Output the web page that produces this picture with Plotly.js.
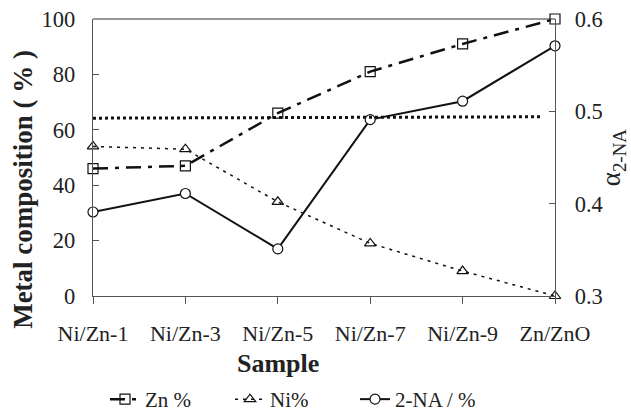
<!DOCTYPE html>
<html>
<head>
<meta charset="utf-8">
<script src="https://cdn.plot.ly/plotly-3.0.1.min.js"></script>
<style>html,body{margin:0;padding:0;background:#fff;}#chart{width:631px;height:411px;}</style>
</head>
<body>
<div id="chart"></div>
<script>
const samples = ['Ni/Zn-1', 'Ni/Zn-3', 'Ni/Zn-5', 'Ni/Zn-7', 'Ni/Zn-9', 'Zn/ZnO'];
const znPct = [46, 47, 66, 81, 91, 100];
const niPct = [54, 53, 34, 19, 9, 0];
const alpha2NA = [0.391, 0.411, 0.351, 0.491, 0.511, 0.571];
const refLineY = [64.2, 64.7];
const refLineX = [0, 4.87];

const fontFam = 'Liberation Serif, Times New Roman, serif';
const mk = (sym) => ({symbol: sym, size: 10, color: '#111', line: {color: '#111', width: 1.2}});

const traces = [
  {x: samples, y: znPct, name: 'Zn %', type: 'scatter', mode: 'lines+markers',
   line: {color: '#111', width: 2.5, dash: '15px,7px,4px,7px'}, marker: mk('square-open'), cliponaxis: false},
  {x: samples, y: niPct, name: 'Ni%', type: 'scatter', mode: 'lines+markers',
   line: {color: '#111', width: 1.5, dash: '3px,5px'}, marker: mk('triangle-up-open'), cliponaxis: false},
  {x: samples, y: alpha2NA, name: '2-NA / %', type: 'scatter', mode: 'lines+markers', yaxis: 'y2',
   line: {color: '#111', width: 2}, marker: {symbol: 'circle', size: 10, color: '#fff', line: {color: '#111', width: 1.2}}, cliponaxis: false}
];

const layout = {
  width: 631, height: 411,
  margin: {l: 93, r: 76, t: 19, b: 115},
  paper_bgcolor: '#fff', plot_bgcolor: '#fff',
  font: {family: fontFam, color: '#222', size: 22},
  showlegend: true,
  legend: {orientation: 'h', x: 0.026, xanchor: 'left', yref: 'container', y: 0.028, yanchor: 'middle',
           entrywidth: 80, font: {family: fontFam, size: 21, color: '#222'}, tracegroupgap: 0},
  xaxis: {type: 'category', range: [0, 5], showgrid: false, zeroline: false, automargin: false,
          showline: true, linecolor: '#555', linewidth: 1.2, mirror: false,
          ticks: 'outside', ticklen: 7, tickcolor: '#555', ticklabelstandoff: 10,
          tickfont: {family: fontFam, size: 22, color: '#222'}},
  yaxis: {range: [0, 100], dtick: 20, showgrid: false, zeroline: false, automargin: false,
          showline: true, linecolor: '#555', linewidth: 1.2,
          ticks: 'inside', ticklen: 6, tickcolor: '#555', ticklabelstandoff: 12,
          tickfont: {family: fontFam, size: 22.5, color: '#222'}},
  yaxis2: {overlaying: 'y', side: 'right', range: [0.3, 0.6], dtick: 0.1, tickformat: '.1f', automargin: false,
           showgrid: false, zeroline: false, showline: true, linecolor: '#555', linewidth: 1.2,
           ticks: 'inside', ticklen: 6, tickcolor: '#555', ticklabelstandoff: 14,
           tickfont: {family: fontFam, size: 22.5, color: '#222'}},
  annotations: [
    {text: '<b>Metal composition ( % )</b>', xref: 'paper', yref: 'paper', x: -0.152, y: 0.386,
     textangle: -90, showarrow: false, xanchor: 'center', yanchor: 'middle',
     font: {family: fontFam, size: 27, color: '#222'}},
    {text: '<b>Sample</b>', xref: 'paper', yref: 'paper', x: 0.4, y: -0.245,
     showarrow: false, xanchor: 'center', yanchor: 'middle',
     font: {family: fontFam, size: 26, color: '#222'}},
    {text: 'α<sub>2-NA</sub>', xref: 'paper', yref: 'paper', x: 1.125, y: 0.5,
     textangle: -90, showarrow: false, xanchor: 'center', yanchor: 'middle',
     font: {family: fontFam, size: 27, color: '#222'}}
  ],
  shapes: [
    {type: 'line', xref: 'paper', yref: 'paper', x0: 0, x1: 1, y0: 1, y1: 1, line: {color: '#333', width: 1.2}},
    {type: 'line', xref: 'x', yref: 'y', x0: refLineX[0], x1: refLineX[1], y0: refLineY[0], y1: refLineY[1],
     line: {color: '#111', width: 3, dash: 'dot'}}
  ]
};

Plotly.newPlot('chart', traces, layout, {staticPlot: true, displayModeBar: false});
</script>
</body>
</html>
